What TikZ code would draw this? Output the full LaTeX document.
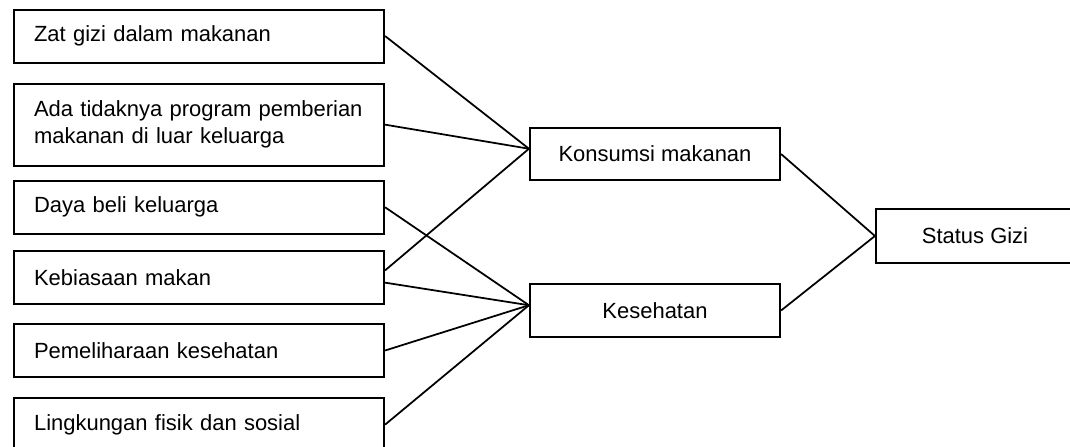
\documentclass[tikz,border=0pt]{standalone}
\usepackage{fontspec}
\setmainfont{Liberation Sans}
\usetikzlibrary{positioning}

\begin{document}
\begin{tikzpicture}[
    node distance=0.4cm,
    faktor/.style={draw, line width=1.2pt, anchor=north west, minimum height=1.06cm, text width=6.6cm, inner xsep=0.4cm, align=left, font=\fontsize{12.5}{15.5}\selectfont},
    antara/.style={draw, line width=1.2pt, minimum width=5cm, minimum height=1.05cm, align=center, font=\fontsize{12.5}{15.5}\selectfont},
    hasil/.style={draw, line width=1.2pt, minimum width=3.96cm, minimum height=1.08cm, align=center, font=\fontsize{12.5}{15.5}\selectfont},
    garis/.style={line width=1pt}]
  \useasboundingbox (0,0) rectangle (21.4,-8.92);
  % faktor-faktor di kiri
  \node[faktor] (zat) at (0.26,-0.17) {Zat gizi dalam makanan};
  \node[faktor, minimum height=1.64cm, below=0.38cm of zat.south west, anchor=north west] (program) {Ada tidaknya program pemberian\\makanan di luar keluarga};
  \node[faktor, below=0.26cm of program.south west, anchor=north west] (daya) {Daya beli keluarga};
  \node[faktor, below=0.30cm of daya.south west, anchor=north west] (kebiasaan) {Kebiasaan makan};
  \node[faktor, below=0.36cm of kebiasaan.south west, anchor=north west] (pemeliharaan) {Pemeliharaan kesehatan};
  \node[faktor, below=0.38cm of pemeliharaan.south west, anchor=north west] (lingkungan) {Lingkungan fisik dan sosial};
  % penyebab langsung
  \node[antara] (konsumsi) at (13.1,-3.08) {Konsumsi makanan};
  \node[antara] (kesehatan) at (13.1,-6.21) {Kesehatan};
  \node[hasil] (status) at (19.5,-4.72) {Status Gizi};
  \draw[garis] (zat.east) -- ([yshift=3pt]konsumsi.west);
  \draw[garis] (program.east) -- ([yshift=3pt]konsumsi.west);
  \draw[garis] ([yshift=4pt]kebiasaan.east) -- ([yshift=3pt]konsumsi.west);
  \draw[garis] (daya.east) -- ([yshift=3pt]kesehatan.west);
  \draw[garis] ([yshift=-3pt]kebiasaan.east) -- ([yshift=3pt]kesehatan.west);
  \draw[garis] (pemeliharaan.east) -- ([yshift=3pt]kesehatan.west);
  \draw[garis] (lingkungan.east) -- ([yshift=3pt]kesehatan.west);
  \draw[garis] (konsumsi.east) -- (status.west);
  \draw[garis] (kesehatan.east) -- (status.west);
\end{tikzpicture}
\end{document}
